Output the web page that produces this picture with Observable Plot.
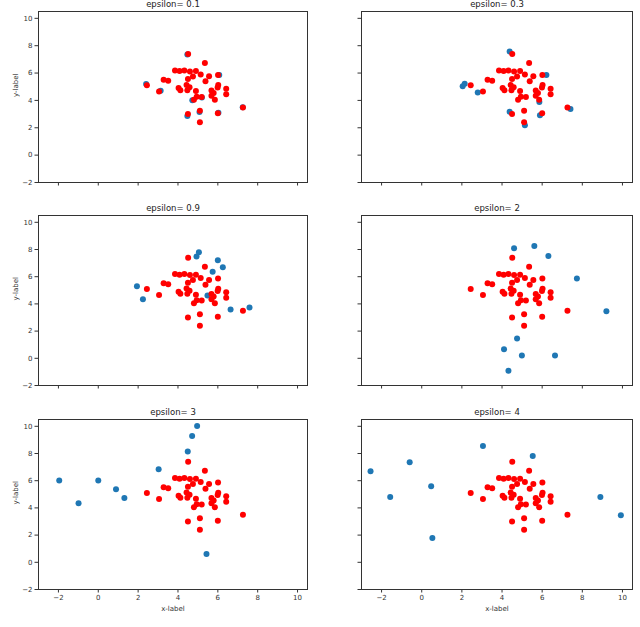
<!DOCTYPE html>
<html>
<head>
<meta charset="utf-8">
<script src="https://cdn.jsdelivr.net/npm/d3@7"></script>
<script src="https://cdn.jsdelivr.net/npm/@observablehq/plot@0.6"></script>
<style>
  html, body { margin: 0; padding: 0; background: #fff; }
  #chart { position: relative; width: 640px; height: 627px; overflow: hidden; }
  #chart svg { position: absolute; overflow: visible; }
</style>
</head>
<body>
<div id="chart"></div>
<script>
// ---- data ----
const epsilons = ["0.1", "0.3", "0.9", "2", "3", "4"];

// original points (red), identical in every panel
const redX = [2.44, 3.05, 3.28, 3.51, 3.85, 4.08, 4.32, 4.60, 4.90, 5.14, 5.35, 6.01, 4.51, 4.75, 4.50, 5.38, 5.56, 4.03, 4.12, 4.43,
              4.47, 4.58, 4.90, 4.94, 4.80, 5.19, 5.68, 5.68, 5.79, 5.85, 6.02, 5.99, 6.42, 6.42, 7.26, 4.50, 5.10, 5.10, 6.00];
const redY = [5.10, 4.66, 5.52, 5.44, 6.19, 6.15, 6.19, 6.12, 6.15, 5.90, 6.73, 5.86, 7.40, 5.75, 5.56, 5.41, 5.76, 4.90, 4.74, 5.13,
              4.74, 4.97, 4.68, 4.27, 4.05, 4.25, 4.72, 4.35, 4.55, 4.05, 5.12, 4.95, 4.85, 4.45, 3.49, 3.00, 3.24, 2.40, 3.06];

// perturbed points (blue), one pair of arrays per panel
const blueX01 = [2.40, 3.13, 4.47, 4.47, 4.72, 5.08, 5.20, 6.03, 6.07, 7.25];
const blueY01 = [5.20, 4.70, 7.36, 2.86, 4.01, 3.15, 4.21, 3.10, 5.86, 3.50];
const blueX03 = [2.04, 2.14, 2.79, 4.38, 4.38, 5.14, 5.86, 5.89, 6.21, 7.41];
const blueY03 = [5.04, 5.21, 4.57, 7.57, 3.17, 2.19, 3.88, 2.92, 5.85, 3.37];
const blueX09 = [1.94, 2.24, 4.93, 5.05, 6.00, 6.25, 5.74, 5.48, 6.64, 7.59];
const blueY09 = [5.29, 4.34, 7.48, 7.79, 7.21, 6.69, 6.37, 4.61, 3.58, 3.73];
const blueX2  = [4.60, 5.61, 6.31, 7.73, 9.20, 4.75, 4.10, 4.99, 6.64, 4.32];
const blueY2  = [8.09, 8.26, 7.52, 5.86, 3.46, 1.45, 0.66, 0.20, 0.20, -0.91];
const blueX3  = [-1.96, -0.99, 0.00, 0.89, 1.31, 3.03, 4.49, 4.71, 4.96, 5.43];
const blueY3  = [6.01, 4.35, 6.01, 5.38, 4.72, 6.85, 8.14, 9.29, 10.02, 0.61];
const blueX4  = [-2.55, -1.57, -0.60, 0.47, 0.53, 3.05, 5.53, 8.90, 9.92];
const blueY4  = [6.69, 4.80, 7.35, 5.59, 1.79, 8.55, 7.82, 4.80, 3.46];

const blueXs = [blueX01, blueX03, blueX09, blueX2, blueX3, blueX4];
const blueYs = [blueY01, blueY03, blueY09, blueY2, blueY3, blueY4];

const xTicks = [-2, 0, 2, 4, 6, 8, 10];
const yTicks = [-2, 0, 2, 4, 6, 8, 10];
const xLabel = "x-label";
const yLabel = "y-label";

// ---- layout ----
const colL = [38, 361], colR = [307, 632];
const rowT = [11, 215, 419], rowB = [182, 385, 589];
const fmt = d3.format("d");
const chart = document.getElementById("chart");

const red = redX.map((x, i) => ({x, y: redY[i]}));

epsilons.forEach((eps, i) => {
  const r = Math.floor(i / 2), c = i % 2;
  const mL = colL[c], mR = 6, mT = 16, mB = 34;
  const fw = colR[c] - colL[c], fh = rowB[r] - rowT[r];
  const blue = blueXs[i].map((x, j) => ({x, y: blueYs[i][j]}));
  const leftCol = c === 0, bottomRow = r === 2;
  const marks = [
    Plot.dot(blue, {x: "x", y: "y", r: 3, fill: "#1f77b4", stroke: "none"}),
    Plot.dot(red, {x: "x", y: "y", r: 3, fill: "red", stroke: "none"}),
    Plot.axisX({ticks: xTicks, tickSize: 3.5, tickPadding: 2.5, fontSize: 7, stroke: "#333", fill: "#333",
                tickFormat: bottomRow ? fmt : () => "", label: null}),
    Plot.axisY({ticks: yTicks, tickSize: 3.5, tickPadding: 2.5, fontSize: 7, stroke: "#333", fill: "#333",
                tickFormat: leftCol ? fmt : () => "", label: null}),
    Plot.frame({stroke: "#333", strokeWidth: 1}),
    Plot.text(["epsilon= " + eps], {text: d => d, frameAnchor: "top", lineAnchor: "middle", dy: -7,
                fontSize: 8.5, fill: "#222"})
  ];
  if (leftCol) marks.push(Plot.text([yLabel], {text: d => d, frameAnchor: "left", lineAnchor: "middle",
                dx: -(mL - 15), rotate: -90, fontSize: 7, fill: "#333"}));
  if (bottomRow) marks.push(Plot.text([xLabel], {text: d => d, frameAnchor: "bottom", lineAnchor: "middle",
                dy: 19, fontSize: 7, fill: "#333"}));
  const svg = Plot.plot({
    width: fw + mL + mR,
    height: fh + mT + mB,
    marginLeft: mL, marginRight: mR, marginTop: mT, marginBottom: mB,
    style: {fontFamily: "DejaVu Sans", background: "transparent", overflow: "visible"},
    x: {domain: [-3, 10.5]},
    y: {domain: [-2, 10.5]},
    marks
  });
  svg.style.left = (0) + "px";
  svg.style.top = (rowT[r] - mT) + "px";
  if (c === 1) svg.style.left = "0px";
  chart.appendChild(svg);
});
</script>
</body>
</html>
